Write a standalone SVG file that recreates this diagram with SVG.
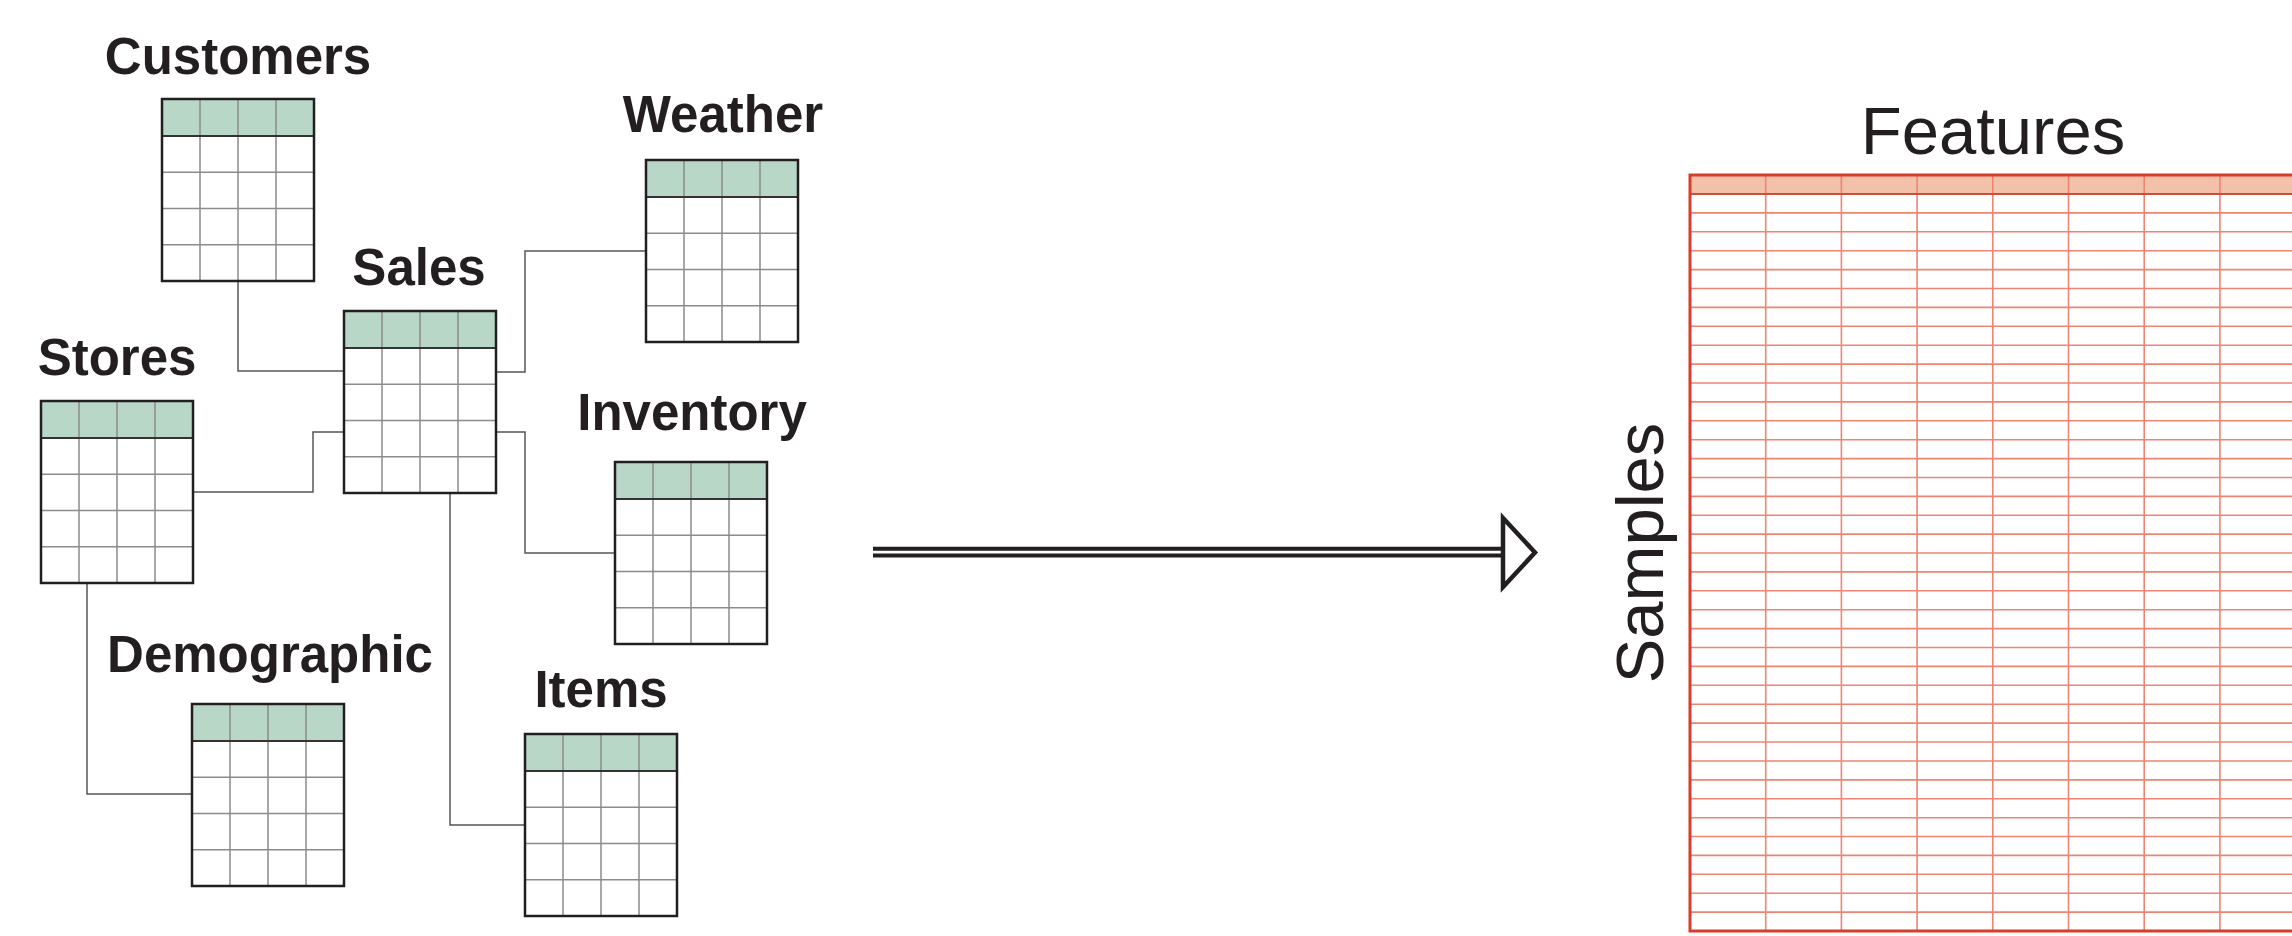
<svg xmlns="http://www.w3.org/2000/svg" xmlns:xlink="http://www.w3.org/1999/xlink" width="2292" height="936" viewBox="0 0 2292 936">
<style>
.lbl{font-family:"Liberation Sans",Arial,sans-serif;font-weight:bold;font-size:51px;fill:#231f20;text-anchor:middle}
.big{font-family:"Liberation Sans",Arial,sans-serif;font-size:67px;fill:#231f20;text-anchor:middle}
.conn{fill:none;stroke:#555;stroke-width:1.5}
.grid{fill:none;stroke:#8c8c8c;stroke-width:1.5}
.outer{fill:none;stroke:#231f20;stroke-width:2.5}
.rgrid{fill:none;stroke:#ee8573;stroke-width:1.6}
</style>
<defs>
<g id="tbl">
<rect x="0" y="0" width="152" height="182" fill="#fff"/>
<rect x="0" y="0" width="152" height="37" fill="#b8d7c6"/>
<path class="grid" d="M38,0V182M76,0V182M114,0V182M0,73.25H152M0,109.5H152M0,145.75H152"/>
<path d="M0,37H152" stroke="#333" stroke-width="2"/>
<rect class="outer" x="0" y="0" width="152" height="182"/>
</g>
</defs>
<rect width="2292" height="936" fill="#fff"/>
<g id="connectors">
<path class="conn" d="M238,281V371H344"/>
<path class="conn" d="M193,492H313V432H344"/>
<path class="conn" d="M450,493V825H525"/>
<path class="conn" d="M87,583V794H192"/>
<path class="conn" d="M496,372H525V251H646"/>
<path class="conn" d="M496,432H525V553H615"/>
</g>
<g id="customers"><text class="lbl" x="238" y="74">Customers</text><use xlink:href="#tbl" x="162" y="99"/></g>
<g id="sales"><text class="lbl" x="419" y="285">Sales</text><use xlink:href="#tbl" x="344" y="311"/></g>
<g id="stores"><text class="lbl" x="117" y="375">Stores</text><use xlink:href="#tbl" x="41" y="401"/></g>
<g id="weather"><text class="lbl" x="723" y="132">Weather</text><use xlink:href="#tbl" x="646" y="160"/></g>
<g id="inventory"><text class="lbl" x="692" y="430">Inventory</text><use xlink:href="#tbl" x="615" y="462"/></g>
<g id="demographic"><text class="lbl" x="270" y="672">Demographic</text><use xlink:href="#tbl" x="192" y="704"/></g>
<g id="items"><text class="lbl" x="601" y="707">Items</text><use xlink:href="#tbl" x="525" y="734"/></g>
<g id="arrow">
<path d="M873,548.7H1503M873,555.6H1503" stroke="#231f20" stroke-width="4" fill="none"/>
<polygon points="1503,518 1535,552.5 1503,587" fill="#fff" stroke="#231f20" stroke-width="4.5" stroke-linejoin="miter"/>
</g>
<g id="matrix">
<text class="big" x="1993" y="154">Features</text>
<text class="big" transform="translate(1663,553) rotate(-90)" x="0" y="0">Samples</text>
<rect x="1690" y="175" width="620" height="756" fill="#fff"/>
<rect x="1690" y="175" width="620" height="19" fill="#f3c0aa"/>
<path class="rgrid" d="M1765.7,175V931M1841.4,175V931M1917.1,175V931M1992.8,175V931M2068.5,175V931M2144.2,175V931M2219.9,175V931
M1690,212.9H2300M1690,231.8H2300M1690,250.7H2300M1690,269.6H2300M1690,288.5H2300M1690,307.4H2300M1690,326.3H2300M1690,345.2H2300M1690,364.1H2300M1690,383H2300
M1690,401.9H2300M1690,420.8H2300M1690,439.7H2300M1690,458.6H2300M1690,477.5H2300M1690,496.4H2300M1690,515.2H2300M1690,534.1H2300M1690,553H2300M1690,571.9H2300
M1690,590.8H2300M1690,609.7H2300M1690,628.6H2300M1690,647.5H2300M1690,666.4H2300M1690,685.3H2300M1690,704.2H2300M1690,723.1H2300M1690,742H2300M1690,761H2300
M1690,779.9H2300M1690,798.8H2300M1690,817.7H2300M1690,836.5H2300M1690,855.4H2300M1690,874.3H2300M1690,893.2H2300M1690,912.1H2300"/>
<path d="M1690,194H2300" stroke="#cc4f3c" stroke-width="2.2"/>
<rect x="1690" y="175" width="620" height="756" fill="none" stroke="#d83c2b" stroke-width="3"/>
</g>
</svg>
